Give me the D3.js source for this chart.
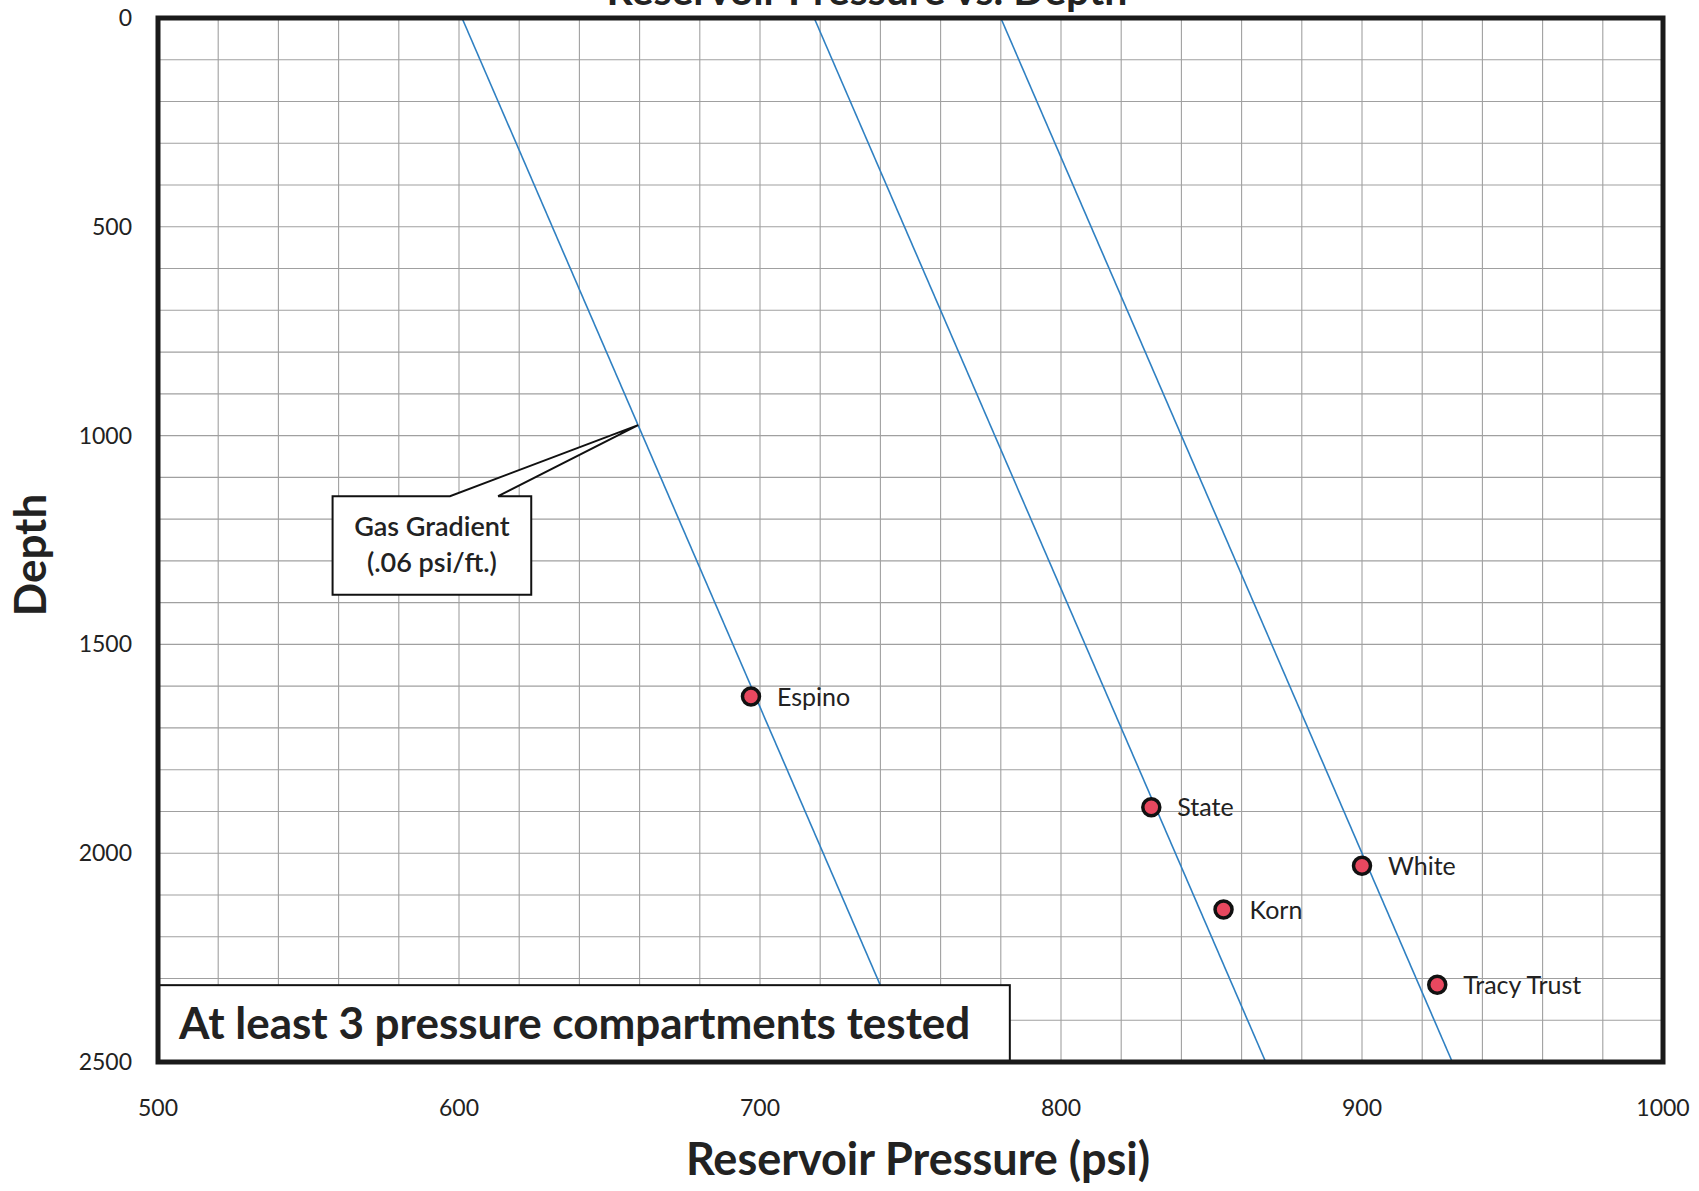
<!DOCTYPE html>
<html>
<head>
<meta charset="utf-8">
<script src="https://cdn.jsdelivr.net/npm/d3@7"></script>
<style>
  body { margin: 0; background: #fff; }
  svg { display: block; font-family: Lato, "Open Sans", sans-serif; }
</style>
</head>
<body>
<svg id="chart" width="1699" height="1191"></svg>
<script>
// well tests
const wells = ['Espino', 'State', 'White', 'Korn', 'Tracy Trust'];
const pressures = [697, 830, 900, 854, 925];
const depths = [1625, 1890, 2030, 2135, 2315];

// gas gradient lines: surface pressure, slope in psi/ft
const gradientStarts = [601, 718, 780];
const gradientSlope = 0.06;

const xTicks = [500, 600, 700, 800, 900, 1000];
const yTicks = [0, 500, 1000, 1500, 2000, 2500];

const W = 1699, H = 1191;
const margin = { top: 18, right: 36, bottom: 129, left: 158 };

const svg = d3.select('#chart');
const x = d3.scaleLinear().domain([500, 1000]).range([margin.left, W - margin.right]);
const y = d3.scaleLinear().domain([0, 2500]).range([margin.top, H - margin.bottom]);

// title, mostly cut off at the top of the scan
svg.append('text')
  .attr('x', 867).attr('y', 5)
  .attr('text-anchor', 'middle')
  .attr('font-size', 41).attr('font-weight', 'bold').attr('fill', '#222')
  .text('Reservoir Pressure vs. Depth');

// grid
const grid = svg.append('g').attr('stroke', '#a0a0a0').attr('stroke-width', 1.1);
grid.selectAll('line.v')
  .data(d3.range(500, 1001, 20))
  .enter().append('line')
  .attr('x1', d => x(d)).attr('x2', d => x(d))
  .attr('y1', y(0)).attr('y2', y(2500));
grid.selectAll('line.h')
  .data(d3.range(0, 2501, 100))
  .enter().append('line')
  .attr('x1', x(500)).attr('x2', x(1000))
  .attr('y1', d => y(d)).attr('y2', d => y(d));

// gradient lines
svg.append('g').selectAll('line')
  .data(gradientStarts)
  .enter().append('line')
  .attr('x1', d => x(d)).attr('y1', y(0))
  .attr('x2', d => x(d + gradientSlope * 2500)).attr('y2', y(2500))
  .attr('stroke', '#2f80c2').attr('stroke-width', 1.6);

// callout for the gas gradient
const tipDepth = 975;
const tip = [x(gradientStarts[0] + gradientSlope * tipDepth), y(tipDepth)];
const bx0 = x(558), bx1 = x(624), by0 = y(1145), by1 = y(1381);
const callout = [
  [bx0, by0], [x(597), by0], tip, [x(613), by0], [bx1, by0],
  [bx1, by1], [bx0, by1]
];
svg.append('path')
  .attr('d', d3.line()(callout) + 'Z')
  .attr('fill', '#fff').attr('stroke', '#111').attr('stroke-width', 2);
svg.append('text')
  .attr('x', (bx0 + bx1) / 2).attr('y', by0 + 40)
  .attr('text-anchor', 'middle')
  .attr('font-size', 27).attr('font-weight', 600).attr('fill', '#222')
  .selectAll('tspan')
  .data(['Gas Gradient', '(.06 psi/ft.)'])
  .enter().append('tspan')
  .attr('x', (bx0 + bx1) / 2)
  .attr('dy', (d, i) => i ? 36 : 0)
  .text(d => d);

// bottom-left note
const nx0 = x(500), nx1 = x(783), ny0 = y(2316), ny1 = y(2500);
svg.append('rect')
  .attr('x', nx0).attr('y', ny0)
  .attr('width', nx1 - nx0).attr('height', ny1 - ny0)
  .attr('fill', '#fff').attr('stroke', '#111').attr('stroke-width', 2);
svg.append('text')
  .attr('x', nx0 + 21).attr('y', (ny0 + ny1) / 2 + 15)
  .attr('font-size', 44).attr('font-weight', 'bold').attr('fill', '#222')
  .text('At least 3 pressure compartments tested');

// points
const pts = svg.append('g');
wells.forEach((name, i) => {
  pts.append('circle')
    .attr('cx', x(pressures[i])).attr('cy', y(depths[i]))
    .attr('r', 8.5)
    .attr('fill', '#e8485f').attr('stroke', '#111').attr('stroke-width', 3.5);
  pts.append('text')
    .attr('x', x(pressures[i]) + 26).attr('y', y(depths[i]) + 9)
    .attr('font-size', 25).attr('fill', '#222')
    .text(name);
});

// frame
svg.append('rect')
  .attr('x', x(500)).attr('y', y(0))
  .attr('width', x(1000) - x(500)).attr('height', y(2500) - y(0))
  .attr('fill', 'none').attr('stroke', '#1a1a1a').attr('stroke-width', 5);

// tick labels
svg.append('g').selectAll('text')
  .data(xTicks)
  .enter().append('text')
  .attr('x', d => x(d)).attr('y', H - margin.bottom + 54)
  .attr('text-anchor', 'middle')
  .attr('font-size', 23).attr('fill', '#222')
  .text(d => d);
svg.append('g').selectAll('text')
  .data(yTicks)
  .enter().append('text')
  .attr('x', margin.left - 26).attr('y', d => y(d) + 8)
  .attr('text-anchor', 'end')
  .attr('font-size', 23).attr('fill', '#222')
  .text(d => d);

// axis titles
svg.append('text')
  .attr('x', 918).attr('y', H - 16)
  .attr('text-anchor', 'middle')
  .attr('font-size', 45).attr('font-weight', 'bold').attr('fill', '#222')
  .text('Reservoir Pressure (psi)');
svg.append('text')
  .attr('transform', 'translate(46, 555) rotate(-90)')
  .attr('text-anchor', 'middle')
  .attr('font-size', 44).attr('font-weight', 'bold').attr('fill', '#222')
  .text('Depth');
</script>
</body>
</html>
